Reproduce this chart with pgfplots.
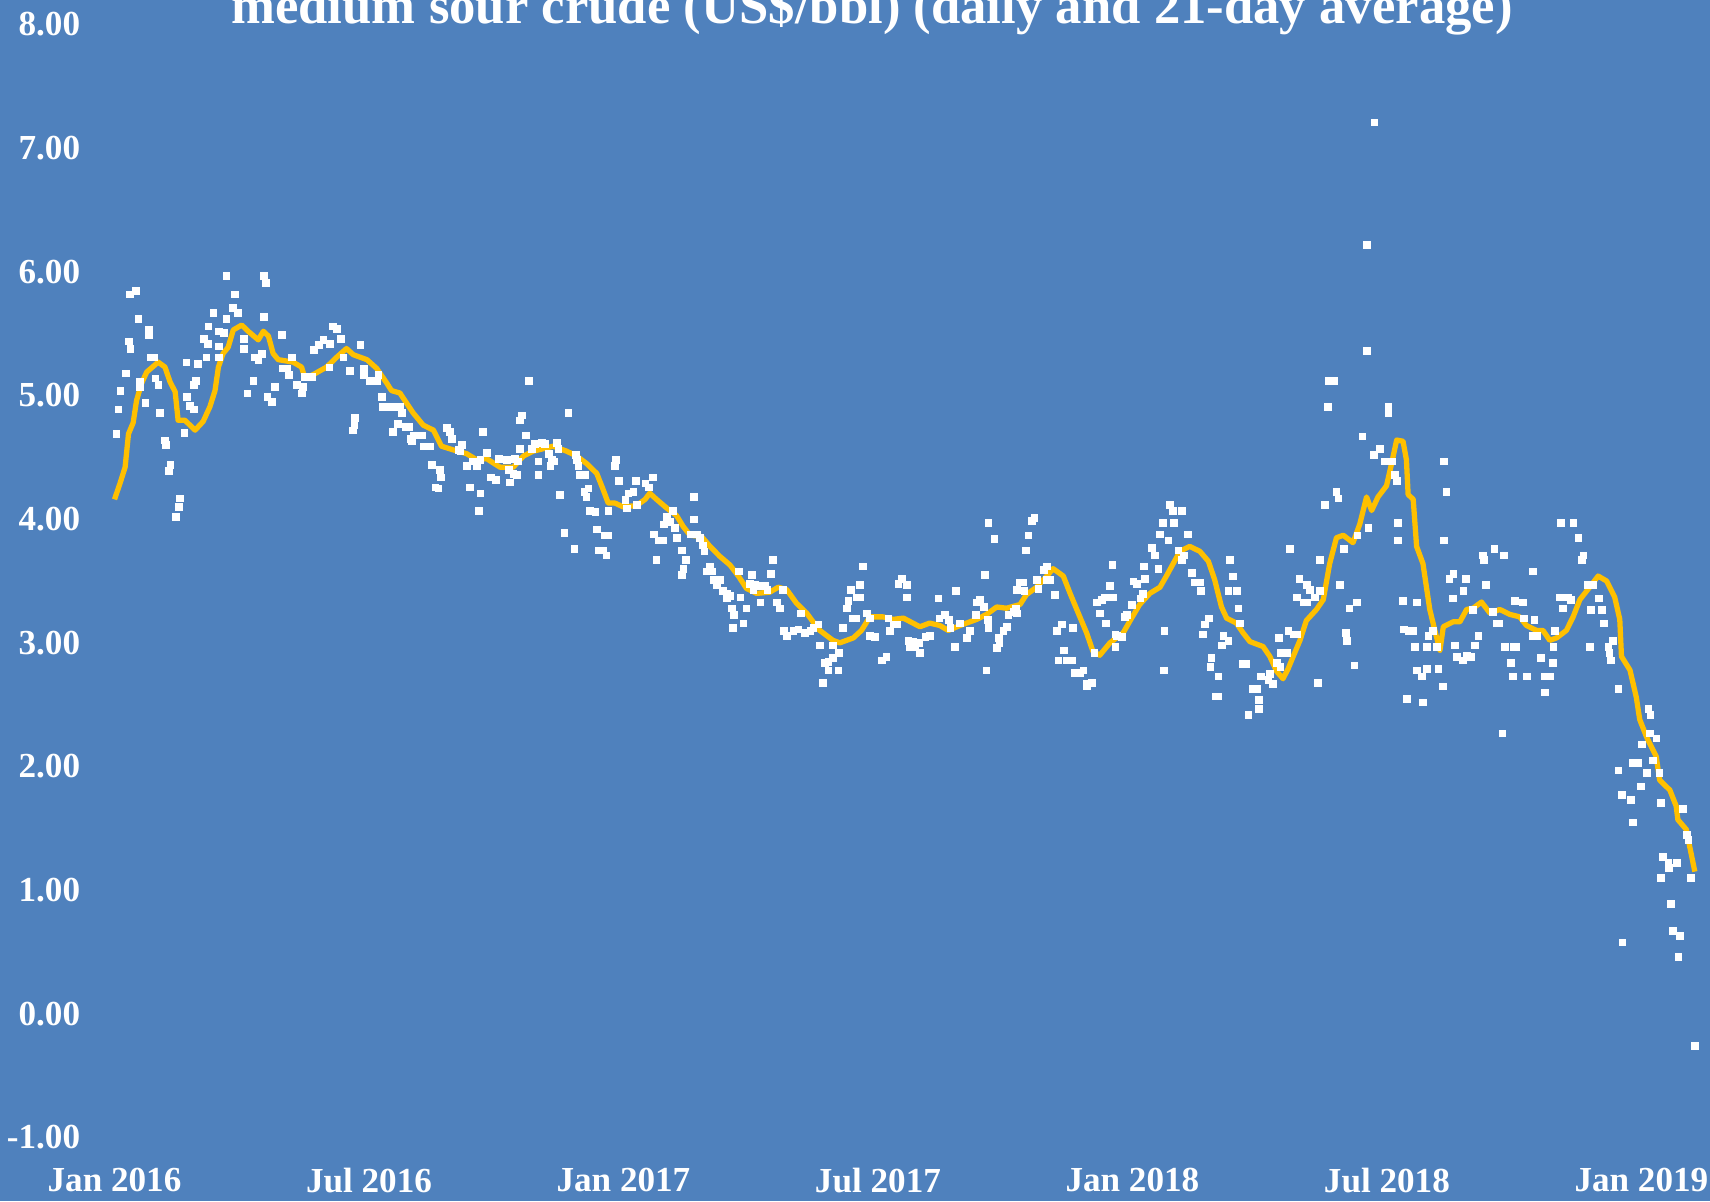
\documentclass[border=0pt]{standalone}
\usepackage{pgfplots}
\pgfplotsset{compat=1.18}
\usepackage{fontspec}
\setmainfont{Liberation Serif}
\definecolor{bgblue}{RGB}{79,129,189}
\definecolor{linegold}{RGB}{255,192,0}
\begin{document}
\begin{tikzpicture}
\useasboundingbox (0,0) rectangle (17.1,12.01);
\clip (0,0) rectangle (17.1,12.01);
\fill[bgblue] (0,0) rectangle (17.1,12.01);
\begin{axis}[
  at={(1.145cm,0.635cm)}, anchor=south west,
  scale only axis, width=15.82cm, height=11.13cm,
  xmin=0, xmax=37.3, ymin=-1, ymax=8,
  clip=false,
  axis line style={draw=none},
  major tick length=0pt, tick style={draw=none},
  xtick={0,6,12,18,24,30,36},
  xticklabels={Jan 2016,Jul 2016,Jan 2017,Jul 2017,Jan 2018,Jul 2018,Jan 2019},
  ytick={-1,0,1,2,3,4,5,6,7,8},
  yticklabels={-1.00,0.00,1.00,2.00,3.00,4.00,5.00,6.00,7.00,8.00},
  ticklabel style={font=\bfseries\fontsize{10}{12}\selectfont, text=white},
  xticklabel style={yshift=-0.18cm},
  yticklabel style={xshift=-0.22cm},
]
\addplot[color=white, only marks, mark=square*, mark size=0.95pt, mark options={fill=white, draw=white, line width=0.1pt}] table {
x y
0.35 5.82
0.50 5.85
0.56 5.62
0.80 5.53
0.80 5.49
0.33 5.44
0.37 5.38
0.84 5.31
0.92 5.31
0.27 5.18
0.60 5.11
0.60 5.07
0.13 5.04
0.96 5.14
1.03 5.09
0.72 4.94
0.09 4.89
1.07 4.86
0.04 4.69
1.19 4.64
1.21 4.60
1.31 4.44
1.27 4.39
1.54 4.17
1.51 4.10
1.45 4.02
1.69 5.27
1.96 5.26
1.70 4.99
1.78 4.92
1.87 4.89
1.92 5.12
1.87 5.09
1.64 4.70
2.16 5.31
2.11 5.46
2.19 5.42
2.21 5.56
2.33 5.67
2.45 5.52
2.58 5.51
2.45 5.40
2.45 5.31
2.63 5.97
2.63 5.62
2.84 5.82
2.79 5.71
2.90 5.67
3.04 5.46
3.05 5.38
3.29 5.31
3.39 5.29
3.47 5.34
3.27 5.12
3.13 5.02
3.60 4.99
3.71 4.95
3.78 5.07
3.52 5.97
3.57 5.91
3.52 5.64
3.94 5.49
4.18 5.31
4.06 5.22
3.96 5.22
4.10 5.17
4.29 5.09
4.41 5.02
4.44 5.07
4.49 5.15
4.65 5.15
4.70 5.37
4.81 5.41
4.92 5.45
5.08 5.42
5.14 5.56
5.24 5.54
5.33 5.46
5.39 5.31
5.55 5.20
5.79 5.41
5.87 5.22
5.87 5.17
5.06 5.23
6.02 5.12
6.18 5.12
6.22 5.17
6.30 4.99
6.32 4.91
6.48 4.91
6.57 4.91
6.73 4.91
6.77 4.86
5.67 4.82
5.65 4.76
5.61 4.72
6.56 4.71
6.68 4.77
6.85 4.75
6.93 4.75
6.97 4.65
7.01 4.63
7.06 4.68
7.24 4.68
7.28 4.59
7.44 4.59
7.48 4.44
7.67 4.40
7.69 4.34
7.56 4.26
7.63 4.25
7.83 4.74
7.91 4.71
7.95 4.65
8.11 4.56
8.18 4.60
8.15 4.55
8.30 4.43
8.44 4.47
8.54 4.43
8.62 4.48
8.77 4.54
8.38 4.26
8.62 4.21
8.58 4.07
8.68 4.71
8.87 4.34
8.99 4.32
9.05 4.49
9.76 5.12
9.60 4.84
9.56 4.80
9.70 4.68
10.70 4.86
9.56 4.57
9.83 4.57
9.91 4.61
10.07 4.62
10.15 4.61
10.42 4.62
10.46 4.57
10.23 4.53
10.31 4.48
10.35 4.47
9.99 4.47
9.44 4.49
9.50 4.47
9.25 4.48
9.29 4.40
9.40 4.37
9.48 4.36
9.32 4.30
9.99 4.36
10.27 4.43
10.88 4.52
10.90 4.48
10.93 4.43
10.97 4.36
11.09 4.36
11.82 4.48
11.80 4.43
11.88 4.31
12.29 4.31
12.51 4.29
12.59 4.26
12.69 4.34
10.50 4.20
11.07 4.22
11.12 4.18
11.17 4.25
11.21 4.07
11.33 4.06
11.64 4.07
12.04 4.16
12.11 4.21
12.23 4.22
12.07 4.09
12.31 4.12
10.60 3.89
10.84 3.76
11.37 3.92
11.56 3.87
11.64 3.87
11.41 3.75
11.51 3.75
11.59 3.71
12.77 3.67
12.72 3.88
12.82 3.83
12.92 3.83
12.94 3.96
13.02 4.02
13.10 3.98
13.16 4.07
13.20 3.93
13.25 3.85
13.37 3.75
13.47 3.67
13.41 3.60
13.37 3.55
13.65 4.18
13.65 4.00
13.57 3.88
13.72 3.88
13.80 3.85
13.87 3.79
13.90 3.74
13.96 3.58
14.08 3.58
14.04 3.62
14.12 3.51
14.20 3.51
14.27 3.51
14.20 3.47
14.34 3.42
14.43 3.40
14.51 3.38
14.43 3.36
14.55 3.28
14.60 3.23
14.57 3.12
14.82 3.16
14.89 3.28
14.75 3.37
14.71 3.58
15.02 3.55
14.98 3.48
15.10 3.47
15.22 3.46
15.34 3.46
15.06 3.43
15.22 3.33
15.39 3.43
15.47 3.56
15.52 3.67
15.61 3.33
15.69 3.28
15.75 3.43
16.18 3.24
15.77 3.10
15.85 3.06
16.00 3.10
16.12 3.11
16.28 3.08
16.40 3.10
16.47 3.12
16.59 3.15
16.63 2.98
16.93 2.98
17.17 3.12
17.26 3.28
17.30 3.34
17.35 3.43
17.50 3.37
17.57 3.37
17.57 3.47
17.64 3.62
17.40 3.20
17.48 3.20
17.73 3.24
17.81 3.20
17.81 3.06
17.93 3.05
16.83 2.85
16.93 2.88
16.75 2.84
16.83 2.78
17.06 2.78
16.69 2.68
17.08 2.92
18.09 2.86
18.19 2.89
18.27 3.10
18.24 3.20
18.36 3.15
18.44 3.15
18.48 3.48
18.56 3.52
18.68 3.47
18.68 3.37
18.71 3.02
18.83 3.01
18.75 2.97
18.87 2.97
18.99 2.92
18.97 3.00
19.11 3.05
19.22 3.06
19.42 3.36
19.44 3.20
19.58 3.23
19.66 3.19
19.70 3.12
19.81 2.97
19.84 3.42
19.93 3.16
20.09 3.04
20.17 3.10
20.31 3.23
20.32 3.33
20.40 3.35
20.50 3.29
20.51 3.55
20.55 2.78
20.60 3.97
20.60 3.12
20.58 3.19
20.74 3.84
20.80 2.96
20.84 3.04
20.86 3.00
20.95 3.10
21.03 3.13
21.07 3.23
21.19 3.25
21.25 3.28
21.27 3.24
21.27 3.43
21.33 3.49
21.41 3.49
21.45 3.42
21.49 3.75
21.54 3.87
21.62 3.99
21.68 4.01
21.74 3.51
21.78 3.44
21.91 3.59
21.98 3.62
21.98 3.51
22.05 3.51
22.16 3.39
22.21 3.10
22.33 3.15
22.25 2.86
22.38 2.94
22.45 2.86
22.56 2.86
22.59 3.12
22.64 2.76
22.76 2.76
22.84 2.78
22.92 2.67
23.04 2.68
22.92 2.65
23.10 2.92
23.23 3.24
23.15 3.33
23.27 3.35
23.35 3.37
23.37 3.16
23.47 3.46
23.53 3.37
23.52 3.63
23.59 3.07
23.63 3.06
23.74 3.05
23.59 2.97
23.82 3.21
23.86 3.23
23.98 3.31
24.02 3.50
24.10 3.48
24.18 3.36
24.24 3.40
24.29 3.52
24.27 3.62
24.45 3.77
24.53 3.71
24.61 3.60
24.65 3.88
24.71 3.97
24.75 3.10
24.74 2.78
24.84 3.83
24.88 4.12
24.95 4.07
25.16 4.07
24.98 3.97
25.08 3.75
25.20 3.71
25.16 3.67
25.31 3.88
25.39 3.57
25.47 3.49
25.59 3.49
25.61 3.42
25.65 3.07
25.71 3.15
25.79 3.20
25.83 2.81
25.86 2.88
25.97 2.57
26.02 2.57
26.02 2.73
26.10 2.98
26.14 3.06
26.26 3.02
26.26 3.42
26.45 3.42
26.30 3.67
26.36 3.54
26.49 3.28
26.53 3.16
26.60 2.83
26.67 2.83
26.73 2.42
26.83 2.63
26.93 2.63
26.97 2.54
26.97 2.47
27.02 2.73
27.24 2.75
27.20 2.70
27.30 2.67
27.44 3.04
27.40 2.84
27.48 2.81
27.48 2.92
27.63 2.92
27.67 3.10
27.79 3.07
27.87 3.07
27.70 3.76
27.87 3.37
27.93 3.52
28.61 4.91
30.03 4.91
30.03 4.86
29.42 4.67
29.68 4.52
29.83 4.57
29.95 4.47
30.11 4.47
30.19 4.36
30.23 4.31
28.80 4.22
28.85 4.17
28.54 4.12
30.26 3.97
30.26 3.83
29.56 3.93
29.30 3.87
31.34 4.47
31.40 4.22
31.34 3.83
28.98 3.76
28.42 3.67
28.10 3.47
28.18 3.43
28.30 3.37
28.42 3.42
28.03 3.33
28.10 3.33
28.89 3.47
29.11 3.28
29.28 3.33
29.03 3.08
29.05 3.02
29.23 2.82
28.36 2.68
30.37 3.34
30.70 3.33
30.40 3.11
30.50 3.10
30.60 3.10
30.66 2.97
30.93 2.97
31.17 2.97
30.97 3.06
31.08 3.10
30.70 2.78
30.82 2.73
30.93 2.79
31.21 2.79
31.31 2.65
30.46 2.55
30.84 2.52
31.56 3.56
31.47 3.52
31.55 3.36
31.80 3.42
31.86 3.52
31.60 2.98
31.64 2.89
31.78 2.86
31.88 2.90
31.97 2.89
32.07 2.98
32.15 3.06
32.02 3.27
32.25 3.71
32.28 3.67
32.53 3.76
32.76 3.71
32.33 3.47
32.49 3.25
32.58 3.16
32.65 3.16
32.78 2.97
32.98 2.97
33.05 2.97
32.91 2.84
32.96 2.73
33.01 3.34
33.20 3.33
33.23 3.20
33.29 2.73
33.43 3.58
33.47 3.19
33.43 3.06
33.53 3.06
33.62 2.88
33.72 2.73
33.84 2.73
33.72 2.60
33.92 2.97
33.90 2.84
33.96 3.10
34.06 3.37
34.15 3.37
34.27 3.37
34.33 3.35
34.15 3.28
34.10 3.97
34.39 3.97
34.51 3.85
34.63 3.71
34.59 3.67
34.72 3.47
34.86 3.47
34.78 2.97
34.80 3.27
35.06 3.27
35.00 3.36
35.11 3.16
35.22 2.97
35.33 3.02
35.24 2.92
35.27 2.86
35.45 2.63
32.72 2.27
36.16 2.47
36.21 2.42
36.20 2.27
36.35 2.23
36.00 2.18
35.80 2.03
35.92 2.03
36.26 2.05
35.45 1.97
36.12 1.95
36.42 1.95
35.98 1.84
35.53 1.77
35.74 1.73
36.45 1.71
36.97 1.66
35.79 1.55
37.06 1.45
37.10 1.41
36.50 1.27
36.63 1.22
36.65 1.18
36.83 1.22
36.45 1.10
37.16 1.10
36.69 0.89
36.73 0.67
36.91 0.63
35.55 0.58
36.87 0.46
37.26 -0.26
29.70 7.21
29.52 6.22
29.52 5.36
28.62 5.12
28.76 5.12
};
\addplot[no marks, color=linegold, line width=1.5pt, line join=round] table {
x y
0.00 4.16
0.13 4.29
0.25 4.42
0.33 4.69
0.44 4.78
0.52 4.96
0.64 5.10
0.76 5.19
1.03 5.27
1.19 5.23
1.31 5.11
1.43 5.03
1.50 4.80
1.66 4.80
1.90 4.72
2.09 4.79
2.25 4.91
2.37 5.04
2.45 5.23
2.56 5.34
2.68 5.39
2.80 5.53
3.00 5.57
3.15 5.52
3.39 5.45
3.51 5.52
3.63 5.48
3.74 5.34
3.86 5.29
4.21 5.27
4.41 5.23
4.49 5.14
4.69 5.17
5.00 5.23
5.24 5.31
5.47 5.38
5.63 5.33
5.95 5.29
6.18 5.22
6.42 5.10
6.53 5.04
6.73 5.02
7.04 4.86
7.28 4.76
7.52 4.72
7.71 4.59
7.99 4.56
8.30 4.53
8.54 4.48
8.77 4.49
9.09 4.42
9.40 4.42
9.64 4.51
9.87 4.55
10.11 4.57
10.34 4.59
10.66 4.55
10.90 4.51
11.13 4.45
11.37 4.37
11.52 4.24
11.64 4.13
11.80 4.13
11.99 4.10
12.31 4.11
12.51 4.16
12.62 4.21
12.78 4.16
13.02 4.09
13.25 4.03
13.41 3.94
13.57 3.87
13.84 3.86
14.04 3.78
14.27 3.70
14.51 3.63
14.71 3.54
14.90 3.44
15.14 3.40
15.45 3.41
15.65 3.45
15.85 3.43
16.08 3.32
16.32 3.24
16.47 3.17
16.63 3.10
16.94 3.02
17.10 3.00
17.42 3.04
17.61 3.10
17.81 3.21
18.12 3.21
18.36 3.19
18.60 3.20
18.99 3.13
19.22 3.16
19.46 3.14
19.66 3.10
19.93 3.14
20.33 3.19
20.56 3.23
20.80 3.29
21.03 3.28
21.35 3.31
21.50 3.39
21.74 3.45
21.98 3.54
22.13 3.60
22.37 3.54
22.53 3.40
22.76 3.21
22.92 3.08
23.07 2.93
23.23 2.90
23.47 3.00
23.78 3.08
23.98 3.20
24.17 3.31
24.41 3.40
24.65 3.45
24.80 3.54
24.96 3.64
25.12 3.74
25.35 3.78
25.59 3.74
25.79 3.66
25.94 3.51
26.10 3.29
26.22 3.20
26.45 3.16
26.61 3.08
26.77 3.01
27.08 2.97
27.24 2.89
27.40 2.77
27.55 2.71
27.67 2.79
27.79 2.89
27.95 3.02
28.10 3.18
28.34 3.27
28.50 3.35
28.65 3.64
28.81 3.85
28.97 3.87
29.20 3.81
29.36 3.96
29.52 4.18
29.64 4.07
29.79 4.18
29.99 4.27
30.11 4.45
30.23 4.64
30.38 4.63
30.46 4.48
30.50 4.20
30.62 4.16
30.70 3.78
30.85 3.64
31.01 3.27
31.13 3.10
31.25 2.94
31.33 3.13
31.56 3.17
31.72 3.17
31.88 3.27
32.03 3.28
32.23 3.33
32.43 3.24
32.66 3.27
32.90 3.23
33.13 3.21
33.29 3.14
33.53 3.10
33.68 3.10
33.84 3.02
34.00 3.04
34.23 3.10
34.39 3.21
34.55 3.35
34.78 3.45
34.98 3.54
35.18 3.50
35.37 3.37
35.49 3.19
35.53 2.89
35.73 2.78
35.88 2.56
35.96 2.38
36.12 2.24
36.35 2.08
36.43 1.89
36.67 1.81
36.82 1.68
36.86 1.57
37.06 1.49
37.14 1.35
37.26 1.15
};
\end{axis}
\node[anchor=base, text=white, font=\bfseries\fontsize{15}{18}\selectfont] at (8.72,11.77) {medium sour crude (US\$/bbl) (daily and 21-day average)};
\end{tikzpicture}
\end{document}
